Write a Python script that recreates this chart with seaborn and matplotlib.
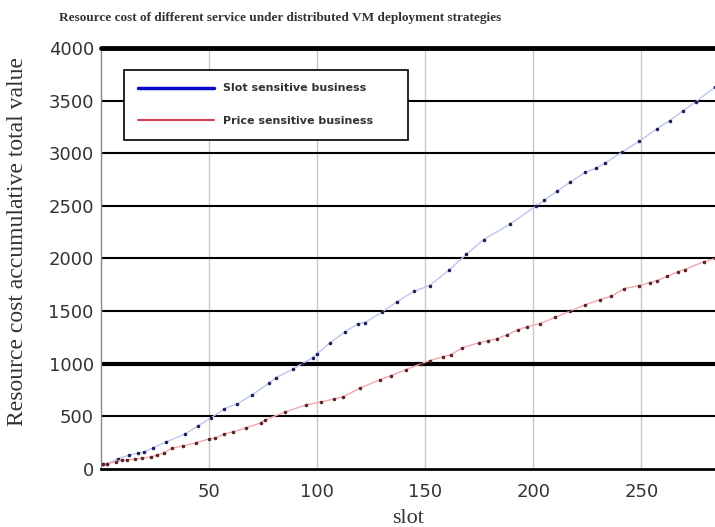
import matplotlib
matplotlib.use("Agg")
import matplotlib.pyplot as plt
from matplotlib.lines import Line2D
import seaborn as sns
import pandas as pd

# ---- data ----
slot_sensitive_x = [1, 3, 8, 13, 17, 20, 24, 30, 39, 45, 51, 57, 63, 70, 78, 81,
                    89, 93, 98, 100, 106, 113, 119, 122, 130, 137, 145, 152, 161,
                    169, 177, 189, 201, 205, 211, 217, 224, 229, 233, 241, 249,
                    257, 263, 269, 275, 284]
slot_sensitive_y = [45, 48, 100, 130, 152, 160, 200, 255, 333, 410, 486, 571, 619,
                    705, 819, 867, 952, 1000, 1057, 1095, 1200, 1305, 1381, 1390,
                    1490, 1590, 1690, 1743, 1890, 2038, 2180, 2324, 2495, 2552,
                    2640, 2724, 2819, 2857, 2905, 3010, 3114, 3230, 3310, 3400,
                    3486, 3629]

price_sensitive_x = [1, 3, 7, 10, 12, 16, 19, 23, 26, 29, 33, 38, 44, 50, 53, 57,
                     61, 67, 74, 76, 85, 95, 102, 108, 112, 120, 129, 134, 141,
                     148, 152, 158, 162, 167, 175, 179, 183, 188, 193, 197, 203,
                     210, 217, 224, 231, 236, 242, 249, 254, 257, 262, 267, 270,
                     279, 284]
price_sensitive_y = [45, 48, 70, 86, 86, 95, 105, 114, 133, 152, 200, 219, 248,
                     286, 295, 333, 352, 390, 438, 467, 540, 610, 638, 667, 686,
                     770, 848, 886, 943, 1000, 1029, 1067, 1086, 1152, 1200, 1219,
                     1238, 1276, 1324, 1352, 1381, 1440, 1500, 1560, 1610, 1640,
                     1714, 1743, 1771, 1790, 1829, 1876, 1895, 1971, 2000]

series_names = ["Slot sensitive business", "Price sensitive business"]
y_ticks = [0, 500, 1000, 1500, 2000, 2500, 3000, 3500, 4000]
x_ticks = [50, 100, 150, 200, 250]

df_slot = pd.DataFrame({"slot": slot_sensitive_x, "cost": slot_sensitive_y})
df_price = pd.DataFrame({"slot": price_sensitive_x, "cost": price_sensitive_y})

sns.set_style("white")
plt.rcParams["font.family"] = ["DejaVu Sans"]

fig = plt.figure(figsize=(7.15, 5.27), dpi=100)
ax = fig.add_axes([0.141, 0.110, 0.859, 0.799])

# grid lines
for v in x_ticks:
    ax.axvline(v, color="#c8c8c8", lw=1.0, zorder=0)
for v in y_ticks[1:-1]:
    ax.axhline(v, color="black", lw=3.0 if v == 1000 else 1.5, zorder=1)

sns.lineplot(data=df_slot, x="slot", y="cost", ax=ax, color="#bcc6ec", lw=1.0,
             marker="o", markersize=1.8, markerfacecolor="#1c1c55",
             markeredgecolor="#1c1c55", zorder=3)
sns.lineplot(data=df_price, x="slot", y="cost", ax=ax, color="#f2a8b0", lw=1.0,
             marker="o", markersize=1.8, markerfacecolor="#5a2020",
             markeredgecolor="#5a2020", zorder=3)

ax.set_xlim(0, 284)
ax.set_ylim(0, 4000)
ax.set_xticks(x_ticks)
ax.set_yticks(y_ticks)
ax.tick_params(axis="both", labelsize=13, length=3, direction="in", pad=5,
               colors="#333333")
ax.tick_params(axis="x", length=0, pad=10)

for s in ["top", "right"]:
    ax.spines[s].set_visible(False)
ax.spines["left"].set_color("#888888")
ax.spines["left"].set_linewidth(1.0)
ax.spines["bottom"].set_color("black")
ax.spines["bottom"].set_linewidth(2.0)
ax.axhline(4000, color="black", lw=3.5, clip_on=False, zorder=4)

ax.set_xlabel("slot", family="Liberation Serif", fontsize=16, color="#333333",
              labelpad=6)
ax.set_ylabel("Resource cost accumulative total value", family="Liberation Serif",
              fontsize=17, color="#333333")
ax.yaxis.set_label_coords(-0.118, 0.54)

fig.text(280 / 715, 1 - 18 / 527,
         "Resource cost of different service under distributed VM deployment strategies",
         family="Liberation Serif", fontsize=9.5, color="#333333", ha="center",
         va="center", fontweight="bold")

handles = [Line2D([0], [0], color="#0a0acc", lw=2.5),
           Line2D([0], [0], color="#d04050", lw=1.5)]
leg = ax.legend(handles, series_names, loc="upper left",
                bbox_to_anchor=(0.029, 0.784, 0.481, 0.178), mode="expand",
                prop={"size": 8, "weight": "bold"}, handlelength=6.8,
                handletextpad=0.8, labelspacing=2.0, borderpad=1.25,
                fancybox=False, framealpha=1, edgecolor="black")
leg.get_frame().set_linewidth(1.2)
for t in leg.get_texts():
    t.set_color("#333333")

fig.savefig("out.png", dpi=100)
